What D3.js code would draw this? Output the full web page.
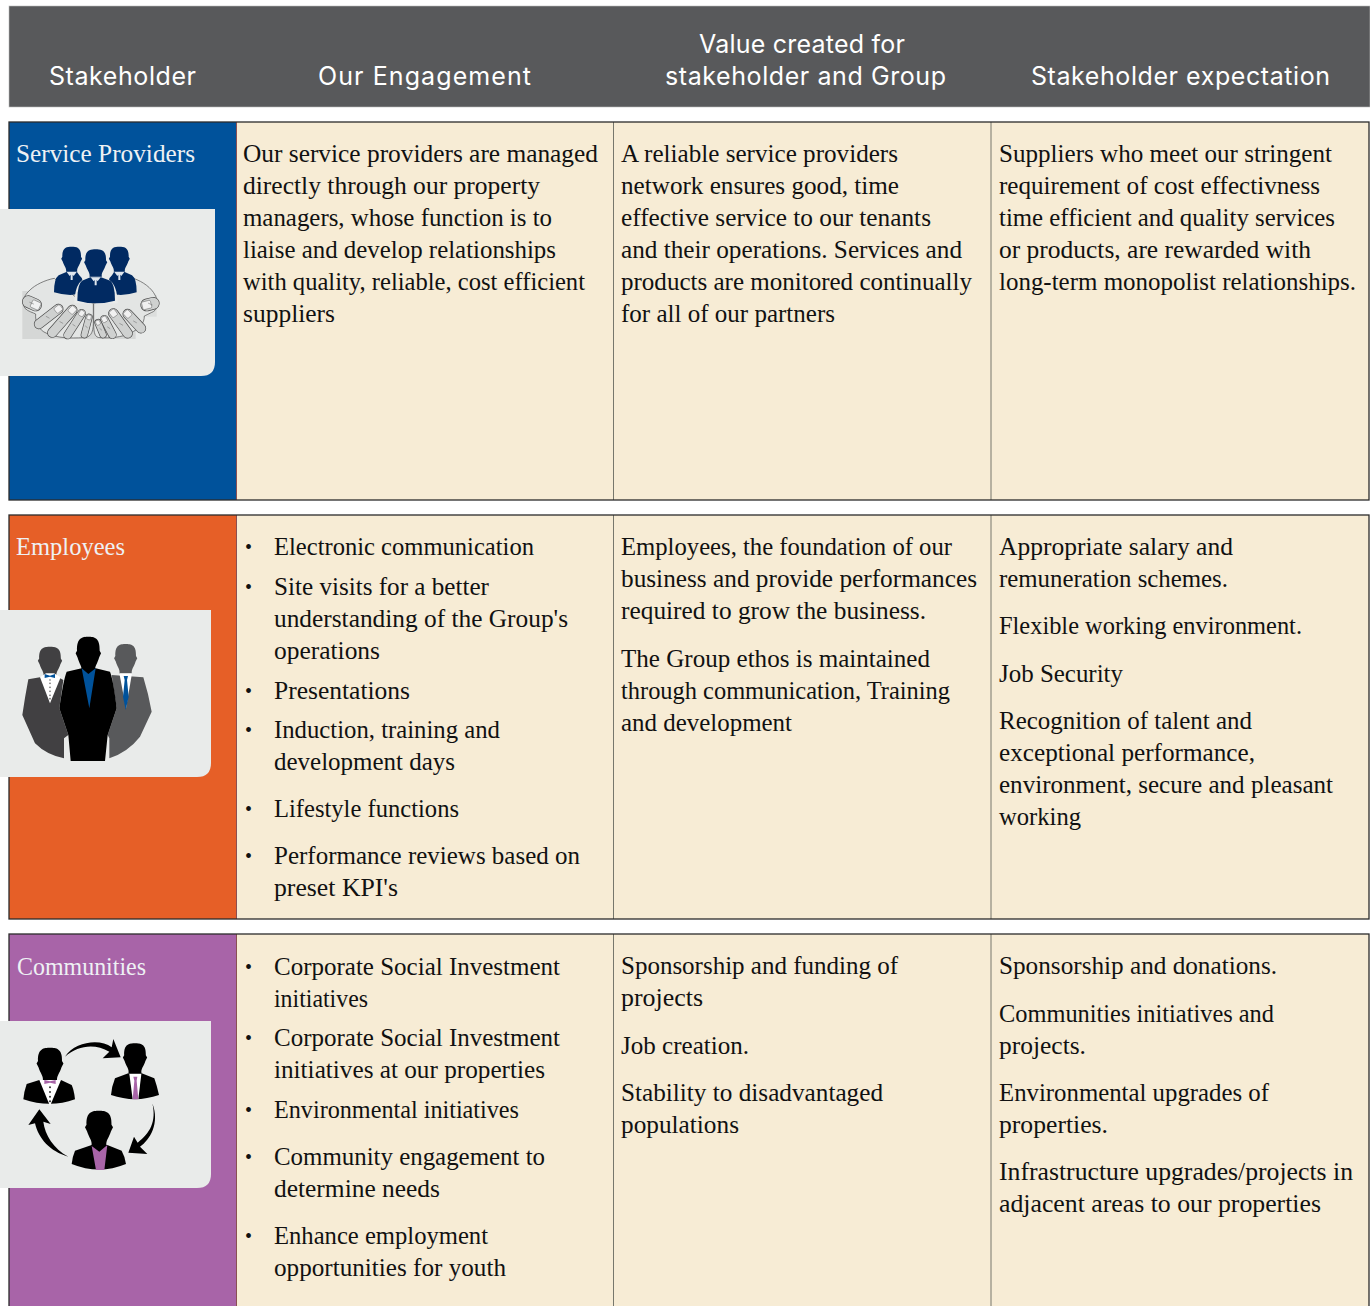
<!DOCTYPE html>
<html><head><meta charset="utf-8">
<script src="https://cdn.jsdelivr.net/npm/d3@7"></script>
<style>html,body{margin:0;padding:0;background:#fff;overflow:hidden}svg{display:block}</style>
</head><body><div id="c"></div>
<script>
const headers = [["Stakeholder"],["Our Engagement"],["Value created for","stakeholder and Group"],["Stakeholder expectation"]];
const stakeholders = ["Service Providers","Employees","Communities"];
const rowColors = ["#00529b","#e65f27","#a864a8"];
const engagement = [
 {bullets:false,paras:[["Our service providers are managed","directly through our property","managers, whose function is to","liaise and develop relationships","with quality, reliable, cost efficient","suppliers"]]},
 {bullets:true,paras:[["Electronic communication"],["Site visits for a better","understanding of the Group's","operations"],["Presentations"],["Induction, training and","development days"],["Lifestyle functions"],["Performance reviews based on","preset KPI's"]]},
 {bullets:true,paras:[["Corporate Social Investment","initiatives"],["Corporate Social Investment","initiatives at our properties"],["Environmental initiatives"],["Community engagement to","determine needs"],["Enhance employment","opportunities for youth"]]}
];
const valueCreated = [
 {paras:[["A reliable service providers","network ensures good, time","effective service to our tenants","and their operations. Services and","products are monitored continually","for all of our partners"]]},
 {paras:[["Employees, the foundation of our","business and provide performances","required to grow the business."],["The Group ethos is maintained","through communication, Training","and development"]]},
 {paras:[["Sponsorship and funding of","projects"],["Job creation."],["Stability to disadvantaged","populations"]]}
];
const expectation = [
 {paras:[["Suppliers who meet our stringent","requirement of cost effectivness","time efficient and quality services","or products, are rewarded with","long-term monopolist relationships."]]},
 {paras:[["Appropriate salary and","remuneration schemes."],["Flexible working environment."],["Job Security"],["Recognition of talent and","exceptional performance,","environment, secure and pleasant","working"]]},
 {paras:[["Sponsorship and donations."],["Communities initiatives and","projects."],["Environmental upgrades of","properties."],["Infrastructure upgrades/projects in","adjacent areas to our properties"]]}
];
// layout: first-baseline y of each paragraph, and right edge of each text line
const colEdges=[9,236,613.5,991,1369];
const rowTops=[122,515,934], rowBottoms=[500,919,1330];
const paraY={
 engagement:[[162],[555,595,699,738,817,864],[975,1046,1118,1165,1244]],
 valueCreated:[[162],[555,667],[974,1054,1101]],
 expectation:[[162],[555,634,682,729],[974,1022,1101,1180]]
};
const lineEnds={
 engagement:[[598,540,552,556,585,335],[534,489,568,380,410,500,455,459,580,398],[560,368,560,545,519,545,440,488,506]],
 valueCreated:[[898,899,931,962,972,835],[952,977,926,930,950,792],[898,703,749,883,739]],
 expectation:[[1332,1320,1335,1311,1356],[1233,1228,1302,1123,1252,1255,1333,1081],[1277,1274,1086,1269,1108,1353,1321]]
};
const labelPos=[[16,162,179],[16,555,109],[17,975,129]];
const headPos=[[49,147],[318,213],[699,206],[665,281],[1031,299]];
const panelTops=[209,610,1021], panelRight=[215,211,211];
const cream="#f7ecd5", serif="'Liberation Serif',serif", panel="#e9ebea";

const svg=d3.select("#c").append("svg").attr("width",1370).attr("height",1306);
svg.append("rect").attr("width",1370).attr("height",1306).attr("fill","#fff");
svg.append("rect").attr("x",9).attr("y",6).attr("width",1361).attr("height",101).attr("fill","#58595b").attr("stroke","#bdbdbd").attr("stroke-width",.6);
let hi=0;
headers.forEach(h=>h.forEach((t,j)=>{
 const p=headPos[hi++];
 svg.append("text").attr("x",p[0]).attr("y",85-(h.length-1-j)*32)
  .attr("fill","#fff").attr("font-family","Inter,sans-serif")
  .attr("font-size",25).attr("textLength",p[1]).attr("lengthAdjust","spacing").text(t);
}));

function rr(x0,y0,x1,y1,r){return `M${x0},${y0}H${x1}V${y1-r}Q${x1},${y1} ${x1-r},${y1}H${x0}Z`;}
stakeholders.forEach((s,r)=>{
 const g=svg.append("g");
 g.append("rect").attr("x",colEdges[0]).attr("y",rowTops[r]).attr("width",colEdges[1]-colEdges[0]).attr("height",rowBottoms[r]-rowTops[r]).attr("fill",rowColors[r]);
 g.selectAll("rect.c").data(d3.range(1,4)).join("rect").attr("class","c")
  .attr("x",i=>colEdges[i]).attr("y",rowTops[r]).attr("width",i=>colEdges[i+1]-colEdges[i]).attr("height",rowBottoms[r]-rowTops[r])
  .attr("fill",cream);
 [2,3].forEach(i=>g.append("line").attr("x1",colEdges[i]).attr("x2",colEdges[i]).attr("y1",rowTops[r]).attr("y2",rowBottoms[r]).attr("stroke","#77776c").attr("stroke-width",1));
 g.append("line").attr("x1",236.5).attr("x2",236.5).attr("y1",rowTops[r]).attr("y2",rowBottoms[r]).attr("stroke","#8a4f52").attr("stroke-width",1);
 g.append("rect").attr("x",colEdges[0]).attr("y",rowTops[r]).attr("width",colEdges[4]-colEdges[0]).attr("height",rowBottoms[r]-rowTops[r])
  .attr("fill","none").attr("stroke","#2b2b2b").attr("stroke-width",1.3);
 g.append("path").attr("d",rr(0,panelTops[r],panelRight[r],panelTops[r]+167,14)).attr("fill",panel);
 const l=labelPos[r];
 g.append("text").attr("x",l[0]).attr("y",l[1]).attr("fill","#eef1f4").attr("font-family",serif).attr("font-size",25).attr("textLength",l[2]).attr("lengthAdjust","spacingAndGlyphs").text(s);
});
function cell(data,key,bx){
 data.forEach((d,r)=>{
  let n=0;
  d.paras.forEach((p,pi)=>{
   const y0=paraY[key][r][pi];
   if(d.bullets) svg.append("text").attr("x",245).attr("y",y0-1).attr("font-family",serif).attr("font-size",20).attr("fill","#111").text("•");
   p.forEach((t,li)=>{
    const x=d.bullets?274:bx;
    svg.append("text").attr("x",x).attr("y",y0+li*32).attr("font-family",serif).attr("font-size",25.5).attr("fill","#111")
     .attr("textLength",lineEnds[key][r][n++]-x).attr("lengthAdjust","spacingAndGlyphs").text(t);
   });
  });
 });
}
cell(engagement,"engagement",243);
cell(valueCreated,"valueCreated",621);
cell(expectation,"expectation",999);

// --- icons, drawn in a 3x local coordinate space
function icon(x0,y0){return svg.append("g").attr("transform",`translate(${x0},${y0}) scale(${1/3})`);}
function P(g,d,fill){return g.append("path").attr("d",d).attr("fill",fill);}
function headPath(cx,top,w,h){
 return `M${cx-w*.5},${top+h*.42}C${cx-w*.52},${top+h*.02} ${cx-w*.25},${top} ${cx},${top}C${cx+w*.25},${top} ${cx+w*.52},${top+h*.02} ${cx+w*.5},${top+h*.42}`+
  `L${cx+w*.56},${top+h*.5}L${cx+w*.48},${top+h*.62}C${cx+w*.4},${top+h*.82} ${cx+w*.26},${top+h*.9} ${cx+w*.3},${top+h*1.05}`+
  `L${cx-w*.3},${top+h*1.05}C${cx-w*.26},${top+h*.9} ${cx-w*.4},${top+h*.82} ${cx-w*.48},${top+h*.62}L${cx-w*.56},${top+h*.5}Z`;
}
// Service providers
const a=icon(15,240);
P(a,"M22,153H362V297H22Z","#d5d7d6");
P(a,"M362,165H425V230H362Z","#dcdedd");
const line="#4a4a4a", skin="#cfd1d0";
P(a,"M118,115C90,120 60,135 45,150C28,165 18,185 30,205C40,215 55,218 62,222C60,245 70,270 95,280C130,295 165,295 205,293C225,293 235,280 235,250L235,190L180,170Z","#e3e5e4").attr("stroke",line).attr("stroke-width",2);
P(a,"M355,115C385,125 410,145 420,165C432,185 430,205 415,215C400,222 395,225 388,228C388,250 375,265 345,280C320,292 285,295 255,293C240,293 236,280 236,250L236,190L300,170Z","#e3e5e4").attr("stroke",line).attr("stroke-width",2);
const fingers=[[130,207,72,252],[172,210,112,278],[200,220,158,285],[222,232,208,284],[338,222,378,265],[295,220,338,280],[268,238,292,284],[249,248,264,284],[62,195,40,185],[395,195,415,190]];
fingers.forEach((f,i)=>{
 const w=i>7?34:i%4==3?18:(i%4==2?22:27);
 [[w+4,line],[w,skin]].forEach(s=>a.append("line").attr("x1",f[0]).attr("y1",f[1]).attr("x2",f[2]).attr("y2",f[3]).attr("stroke",s[1]).attr("stroke-width",s[0]).attr("stroke-linecap","round"));
 const ang=Math.atan2(f[3]-f[1],f[2]-f[0])*180/Math.PI;
 a.append("rect").attr("x",-w*.4).attr("y",-w*.35).attr("width",w*.8).attr("height",w*.7).attr("rx",4)
  .attr("transform",`translate(${f[0]},${f[1]}) rotate(${ang})`).attr("fill","#f1f1f1").attr("stroke","#666").attr("stroke-width",1.5);
 a.append("line").attr("x1",f[0]*.45+f[2]*.55-w*.2).attr("y1",f[1]*.45+f[3]*.55-3).attr("x2",f[0]*.45+f[2]*.55+w*.2).attr("y2",f[1]*.45+f[3]*.55+3).attr("stroke","#666").attr("stroke-width",1.5);
});
const navy="#012a62";
function suitP(cx,top,w,h,x0,x1,yt,yb){
 P(a,headPath(cx,top,w,h),navy);
 P(a,`M${cx-16},${yt}L${x0+14},${yt+10}Q${x0},${yt+20} ${x0},${yb-8}Q${cx},${yb+8} ${x1},${yb-8}Q${x1},${yt+20} ${x1-14},${yt+10}L${cx+16},${yt}Z`,navy);
 P(a,`M${cx-15},${yt}H${cx+15}L${cx+6},${yt+12}L${cx+3},${yt+8}V${yt+24}H${cx-3}V${yt+8}L${cx-6},${yt+12}Z`,"#dfe6ee");
}
suitP(170,20,56,72,117,207,96,165);
suitP(313,20,56,72,277,365,96,165);
P(a,"M178,190Q178,108 242,104Q308,108 308,190Z",panel);
suitP(242,28,62,78,187,300,112,190);

// Employees
const b=icon(0,600);
P(b,"M120,232L85,238Q75,290 67,345L105,430Q140,465 192,475V415L205,405L178,325L190,240L175,232Z","#414042");
P(b,headPath(150,140,65,85),"#414042");
P(b,"M120,232L150,310L182,232L162,220H138Z","#fff");
P(b,"M134,222L150,227L165,222V234L150,230L134,234Z","#00529b");
[240,250,262,274,286,296].forEach(y=>b.append("circle").attr("cx",150).attr("cy",y).attr("r",2.5).attr("fill","#666"));
P(b,"M335,225L430,232Q445,280 455,335L420,410Q385,455 328,475V415L323,405L350,325Z","#58595b");
P(b,headPath(377,132,62,85),"#58595b");
P(b,"M358,220H396L378,325Z","#fff");
P(b,"M371,228H384L381,240L386,290L377,330L369,290L374,240Z","#00529b");
P(b,headPath(265,110,68,100),"#000");
P(b,"M245,205L200,215Q190,240 178,325L205,405L212,483H315L323,405L350,325Q340,240 330,215L287,205Z","#000");
P(b,"M245,205L265,222L287,205L268,325Z","#00529b");

// Communities
const d=icon(0,1010);
function bustC(headArgs,body){P(d,headPath(...headArgs),"#000");P(d,body,"#000");}
const purple="#a864a8";
bustC([150,113,72,95],"M118,210L80,222Q72,245 70,268Q150,295 225,268Q222,240 215,225L183,210Z");
P(d,"M118,210L150,288L183,210Z","#fff");
P(d,"M133,210L150,214L167,210V222L150,218L133,222Z",purple);
[232,246,260,274].forEach(y=>d.append("circle").attr("cx",150).attr("cy",y).attr("r",3).attr("fill","#333"));
bustC([405,100,65,85],"M385,190L345,205Q335,230 333,255Q405,280 477,255Q470,225 463,205L425,190Z");
P(d,"M388,192H424L415,268H398Z","#fff");
P(d,"M400,200H412L410,212L415,268H398L403,212Z",purple);
bustC([297,302,75,100],"M275,405L225,422Q217,440 215,462Q297,495 378,462Q375,440 365,422L322,405Z");
P(d,"M275,408L298,425L322,405L313,480H288Z",purple);
P(d,"M195,140C225,95 300,85 335,112L340,87L362,142L308,145L328,125C285,100 235,105 195,140Z","#000");
P(d,"M457,280C480,340 450,390 420,410L442,432L385,428L402,380L413,398C450,370 470,335 457,280Z","#000");
P(d,"M205,440C150,425 115,385 105,340L85,345L118,298L152,342L130,335C135,375 160,415 205,440Z","#000");
</script></body></html>
